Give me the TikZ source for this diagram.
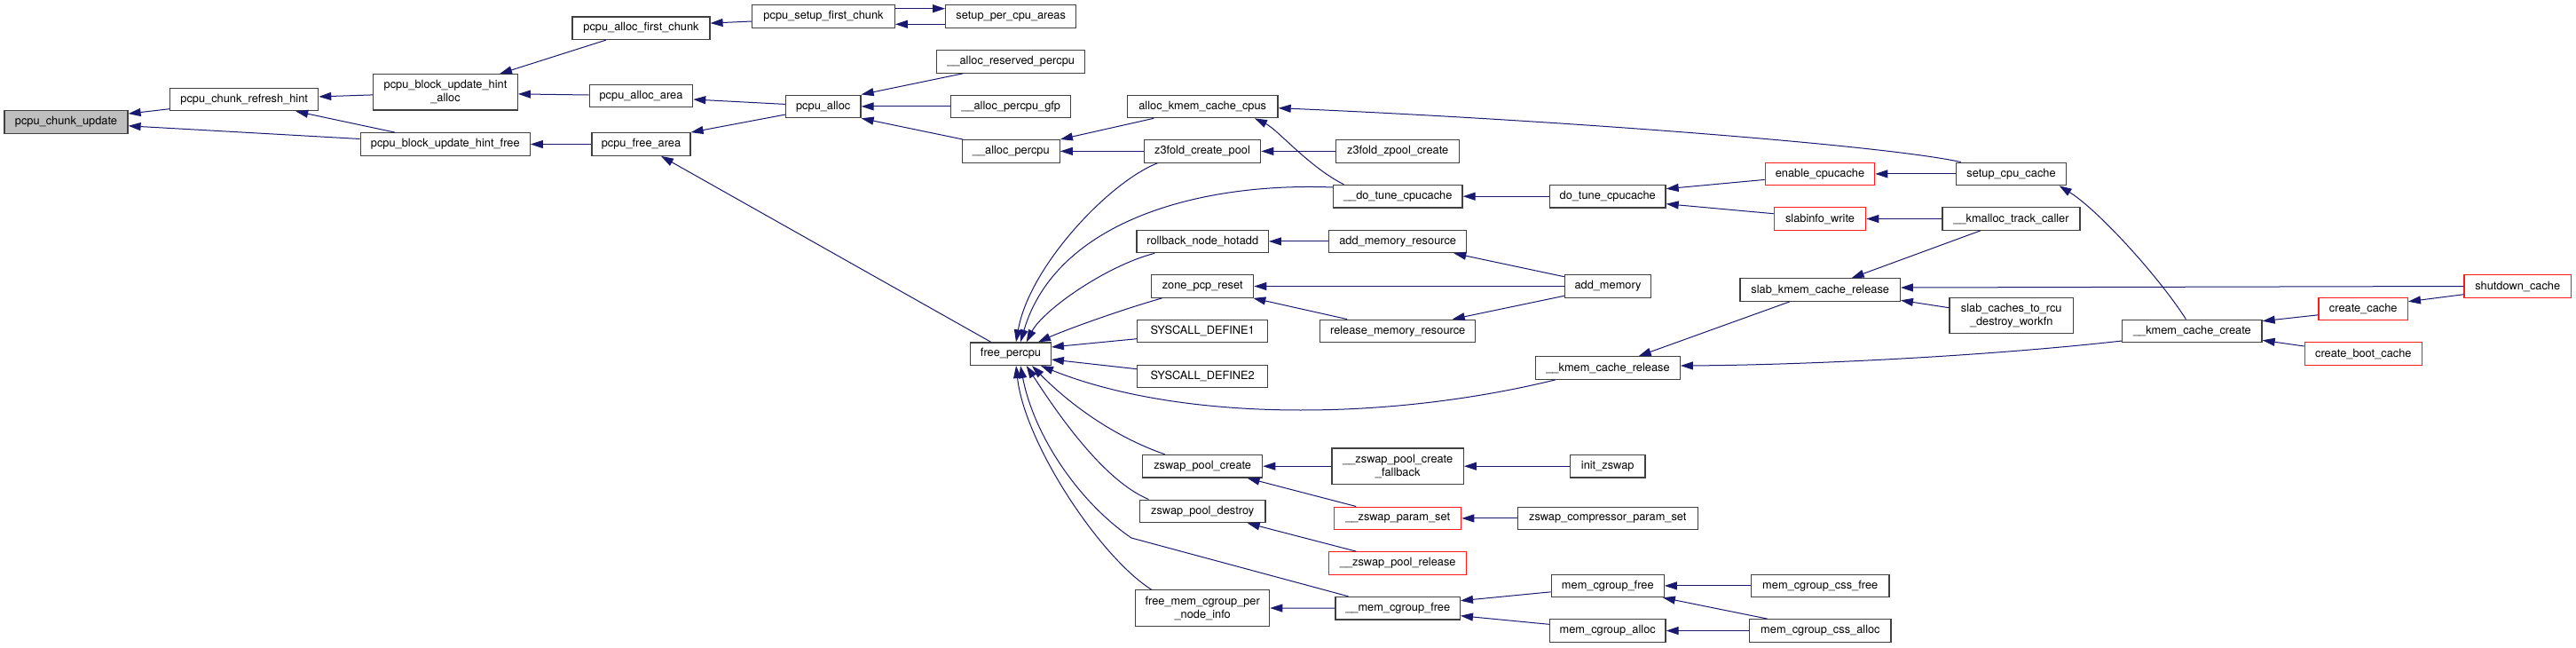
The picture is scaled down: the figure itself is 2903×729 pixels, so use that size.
\documentclass[tikz,border=0pt]{standalone}
\usepackage{fontspec}
\setmainfont{TeX Gyre Heros}
\usetikzlibrary{arrows.meta}
\definecolor{edgec}{HTML}{191970}
\definecolor{boxc}{HTML}{404040}
\definecolor{redc}{HTML}{FF1A1A}
\definecolor{rootc}{HTML}{BFBFBF}
\newcommand\fnfont{\fontsize{12.8}{15}\selectfont}
\begin{document}
\begin{tikzpicture}[x=1pt,y=-1pt,
  fn/.style={draw=boxc, line width=1.2pt, fill=white, inner sep=0pt, font=\fnfont, align=center, minimum height=25.6pt},
  two/.style={minimum height=40.3pt},
  fnred/.style={fn, draw=redc},
  fnroot/.style={fn, fill=rootc},
  cg/.style={draw=edgec, line width=1pt, -{Triangle[length=14pt,width=9pt]}}]
\path[fill=white] (0,0) rectangle (2903,729);
\useasboundingbox (0,0) rectangle (2903,729);

% nodes
\node[fnroot, minimum width=139pt] (cu) at (74.5,137.3) {pcpu\_chunk\_update};
\node[fn, minimum width=167pt] (rh) at (275.2,111.9) {pcpu\_chunk\_refresh\_hint};
\node[fn, two, minimum width=162.6pt] (ha) at (502,103.9) {pcpu\_block\_update\_hint\\\_alloc};
\node[fn, minimum width=191pt] (hf) at (501.8,162.5) {pcpu\_block\_update\_hint\_free};
\node[fn, minimum width=155pt] (afc) at (722.5,31.7) {pcpu\_alloc\_first\_chunk};
\node[fn, minimum width=116.4pt] (aa) at (722.5,108) {pcpu\_alloc\_area};
\node[fn, minimum width=111pt] (fa) at (722.5,162.5) {pcpu\_free\_area};
\node[fn, minimum width=160.6pt] (sfc) at (928,18.5) {pcpu\_setup\_first\_chunk};
\node[fn, minimum width=147pt] (spca) at (1139.2,18.5) {setup\_per\_cpu\_areas};
\node[fn, minimum width=84.7pt] (pa) at (927.7,119.9) {pcpu\_alloc};
\node[fn, minimum width=167pt] (arp) at (1139.2,69.4) {\_\_alloc\_reserved\_percpu};
\node[fn, minimum width=135pt] (apg) at (1139.2,119.9) {\_\_alloc\_percpu\_gfp};
\node[fn, minimum width=110pt] (ap) at (1139.3,170.4) {\_\_alloc\_percpu};
\node[fn, minimum width=90.6pt] (fp) at (1139,398.7) {free\_percpu};
\node[fn, minimum width=169.7pt] (akcc) at (1355.2,119.9) {alloc\_kmem\_cache\_cpus};
\node[fn, minimum width=131.4pt] (zcp) at (1355,170.4) {z3fold\_create\_pool};
\node[fn, minimum width=148.3pt] (rnh) at (1355.2,271.9) {rollback\_node\_hotadd};
\node[fn, minimum width=115pt] (zpr) at (1355.2,322.5) {zone\_pcp\_reset};
\node[fn, minimum width=147pt] (sd1) at (1355.2,373) {SYSCALL\_DEFINE1};
\node[fn, minimum width=147pt] (sd2) at (1355.2,423.9) {SYSCALL\_DEFINE2};
\node[fn, minimum width=135pt] (zpc) at (1355.2,525.2) {zswap\_pool\_create};
\node[fn, minimum width=141.7pt] (zpd) at (1355.2,575.9) {zswap\_pool\_destroy};
\node[fn, two, minimum width=151pt] (fmc) at (1355.2,685) {free\_mem\_cgroup\_per\\\_node\_info};
\node[fn, minimum width=139pt] (zzc) at (1575.2,170.4) {z3fold\_zpool\_create};
\node[fn, minimum width=145.7pt] (dtc) at (1575.2,221.2) {\_\_do\_tune\_cpucache};
\node[fn, minimum width=155pt] (amr) at (1575.2,271.9) {add\_memory\_resource};
\node[fn, minimum width=175pt] (rmr) at (1575.2,373) {release\_memory\_resource};
\node[fn, two, minimum width=148.3pt] (zpcf) at (1575.2,525.2) {\_\_zswap\_pool\_create\\\_fallback};
\node[fnred, minimum width=143pt] (zps) at (1575.2,583.9) {\_\_zswap\_param\_set};
\node[fnred, minimum width=155pt] (zprl) at (1575.2,634.5) {\_\_zswap\_pool\_release};
\node[fn, minimum width=140.3pt] (mcfu) at (1575.2,685.2) {\_\_mem\_cgroup\_free};
\node[fn, minimum width=130.7pt] (dtc2) at (1811.7,221.2) {do\_tune\_cpucache};
\node[fn, minimum width=97.4pt] (am) at (1812,322.5) {add\_memory};
\node[fn, minimum width=162.6pt] (kcr) at (1812,414.5) {\_\_kmem\_cache\_release};
\node[fn, minimum width=84.7pt] (iz) at (1811.7,525.2) {init\_zswap};
\node[fn, minimum width=203pt] (zcps) at (1811.8,583.9) {zswap\_compressor\_param\_set};
\node[fn, minimum width=127pt] (mcfree) at (1811.8,659.9) {mem\_cgroup\_free};
\node[fn, minimum width=130.7pt] (mca) at (1811.7,710.5) {mem\_cgroup\_alloc};
\node[fnred, minimum width=123.4pt] (ec) at (2051,195.9) {enable\_cpucache};
\node[fnred, minimum width=103.4pt] (sw) at (2051,246.5) {slabinfo\_write};
\node[fn, minimum width=180.3pt] (skcr) at (2051.2,326.5) {slab\_kmem\_cache\_release};
\node[fn, minimum width=155.7pt] (mccf) at (2051.2,659.9) {mem\_cgroup\_css\_free};
\node[fn, minimum width=159.3pt] (mcca) at (2051.4,710.5) {mem\_cgroup\_css\_alloc};
\node[fn, minimum width=124.4pt] (scc) at (2266.5,195.9) {setup\_cpu\_cache};
\node[fn, minimum width=155pt] (ktc) at (2266.5,246.5) {\_\_kmalloc\_track\_caller};
\node[fn, two, minimum width=139.3pt] (scrd) at (2266.7,355.7) {slab\_caches\_to\_rcu\\\_destroy\_workfn};
\node[fn, minimum width=157.3pt] (kcc) at (2470.4,373) {\_\_kmem\_cache\_create};
\node[fnred, minimum width=100.3pt] (cc) at (2663.2,347.9) {create\_cache};
\node[fnred, minimum width=132pt] (cbc) at (2663.3,398.5) {create\_boot\_cache};
\node[fnred, minimum width=120.3pt] (sc) at (2837.2,322.5) {shutdown\_cache};

% edges (caller -> callee)
\draw[cg] ([shift={(0,10.8)}]rh.west) -- ([shift={(0,-9.2)}]cu.east);
\draw[cg] ([shift={(0,-6)}]hf.west) -- ([shift={(0,4.5)}]cu.east);
\draw[cg] ([shift={(0,3)}]ha.west) -- ([shift={(0,-3)}]rh.east);
\draw[cg] ([shift={(-56.8,0)}]hf.north) -- ([shift={(58,0)}]rh.south);
\draw[cg] ([shift={(-39.5,0)}]afc.south) -- ([shift={(61,0)}]ha.north);
\draw[cg] ([shift={(0,-1)}]aa.west) -- ([shift={(0,2)}]ha.east);
\draw[cg] (fa.west) -- (hf.east);
\draw[cg] ([shift={(0,5.5)}]sfc.west) -- ([shift={(0,-5.6)}]afc.east);
\draw[cg] ([shift={(0,-8.8)}]sfc.east) -- ([shift={(0,-8.8)}]spca.west);
\draw[cg] ([shift={(0,8.8)}]spca.west) -- ([shift={(0,8.8)}]sfc.east);
\draw[cg] ([shift={(0,-2.5)}]pa.west) -- ([shift={(0,4)}]aa.east);
\draw[cg] ([shift={(0,9.2)}]pa.west) -- (fa.north east);
\draw[cg] ([shift={(-22.3,0)}]fp.north) -- ([shift={(22.5,0)}]fa.south);
\draw[cg] ([shift={(-54,0)}]arp.south) -- (pa.north east);
\draw[cg] (apg.west) -- (pa.east);
\draw[cg] ([shift={(-54.3,0)}]ap.north) -- (pa.south east);
\draw[cg] ([shift={(-55,0)}]akcc.south) -- (ap.north east);
\draw[cg] (zcp.west) -- (ap.east);
\draw[cg] ([shift={(6,0)}]scc.north west) .. controls (2120,163) and (1750,135) .. ([shift={(0,1.8)}]akcc.east);
\draw[cg] ([shift={(12.7,0)}]dtc.north west) .. controls (1475,188) and (1440,146) .. ([shift={(-26.7,0)}]akcc.south east);
\draw[cg] (zzc.west) -- (zcp.east);
\draw[cg] (dtc2.west) -- (dtc.east);
\draw[cg] ([shift={(0,6.5)}]ec.west) -- ([shift={(0,-8.5)}]dtc2.east);
\draw[cg] ([shift={(0,-5.8)}]sw.west) -- ([shift={(0,8.5)}]dtc2.east);
\draw[cg] (scc.west) -- (ec.east);
\draw[cg] (ktc.west) -- (sw.east);
\draw[cg] ([shift={(-7,0)}]kcc.north) .. controls (2433,312) and (2365,237) .. ([shift={(-8.7,0)}]scc.south east);
\draw[cg] ([shift={(-34.8,0)}]ktc.south) -- ([shift={(35.5,0)}]skcr.north);
\draw[cg] (sc.west) -- ([shift={(0,-2.5)}]skcr.east);
\draw[cg] ([shift={(0,-9)}]scrd.west) -- ([shift={(0,11.8)}]skcr.east);
\draw[cg] ([shift={(-34.5,0)}]skcr.south) -- ([shift={(34.7,0)}]kcr.north);
\draw[cg] ([shift={(0,11)}]kcc.west) .. controls (2250,400) and (2050,411) .. ([shift={(0,-2.5)}]kcr.east);
\draw[cg] ([shift={(0,6.9)}]cc.west) -- ([shift={(0,-11.3)}]kcc.east);
\draw[cg] ([shift={(0,-8.5)}]cbc.west) -- ([shift={(0,10.3)}]kcc.east);
\draw[cg] ([shift={(0,9.2)}]sc.west) -- ([shift={(0,-8.2)}]cc.east);
\draw[cg] (amr.west) -- (rnh.east);
\draw[cg] ([shift={(0,-10.8)}]am.west) -- ([shift={(-15,0)}]amr.south east);
\draw[cg] (am.west) -- (zpr.east);
\draw[cg] ([shift={(-57,0)}]rmr.north) -- ([shift={(-1,0)}]zpr.south east);
\draw[cg] ([shift={(0,10.8)}]am.west) -- ([shift={(61.5,0)}]rmr.north);
% callers of free_percpu
\draw[cg] ([shift={(15.7,0)}]zcp.south west) .. controls (1250,205) and (1160,300) .. ([shift={(6,0)}]fp.north);
\draw[cg] ([shift={(0,-10.2)}]dtc.west) .. controls (1350,205) and (1190,250) .. ([shift={(11,0)}]fp.north);
\draw[cg] ([shift={(20.7,0)}]rnh.south west) .. controls (1245,300) and (1175,350) .. ([shift={(17.7,0)}]fp.north);
\draw[cg] ([shift={(12.3,0)}]zpr.south west) .. controls (1260,350) and (1200,372) .. ([shift={(31,0)}]fp.north);
\draw[cg] ([shift={(0,8.7)}]sd1.west) -- ([shift={(0,-7.7)}]fp.east);
\draw[cg] ([shift={(0,-8.2)}]sd2.west) -- ([shift={(0,6.3)}]fp.east);
\draw[cg] ([shift={(22.6,0)}]kcr.south west) .. controls (1560,475) and (1330,475) .. ([shift={(34,0)}]fp.south);
\draw[cg] ([shift={(25.6,0)}]zpc.north west) .. controls (1250,490) and (1200,450) .. ([shift={(24,0)}]fp.south);
\draw[cg] ([shift={(10.7,0)}]zpd.north west) .. controls (1240,540) and (1185,455) .. ([shift={(17.7,0)}]fp.south);
\draw[cg] ([shift={(15,0)}]mcfu.north west) -- (1275,606) .. controls (1215,565) and (1165,490) .. ([shift={(11,0)}]fp.south);
\draw[cg] ([shift={(18.6,0)}]fmc.north west) .. controls (1240,628) and (1155,500) .. ([shift={(6,0)}]fp.south);
% zswap / memcg
\draw[cg] (zpcf.west) -- (zpc.east);
\draw[cg] ([shift={(-47,0)}]zps.north) -- ([shift={(-17.7,0)}]zpc.south east);
\draw[cg] ([shift={(-47,0)}]zprl.north) -- ([shift={(-21,0)}]zpd.south east);
\draw[cg] (iz.west) -- (zpcf.east);
\draw[cg] (zcps.west) -- (zps.east);
\draw[cg] (mcfu.west) -- (fmc.east);
\draw[cg] ([shift={(0,6.9)}]mcfree.west) -- ([shift={(0,-8.5)}]mcfu.east);
\draw[cg] ([shift={(0,-7.2)}]mca.west) -- ([shift={(0,8.5)}]mcfu.east);
\draw[cg] (mccf.west) -- (mcfree.east);
\draw[cg] ([shift={(-59.7,0)}]mcca.north) -- ([shift={(-2,0)}]mcfree.south east);
\draw[cg] (mcca.west) -- (mca.east);
\end{tikzpicture}
\end{document}
